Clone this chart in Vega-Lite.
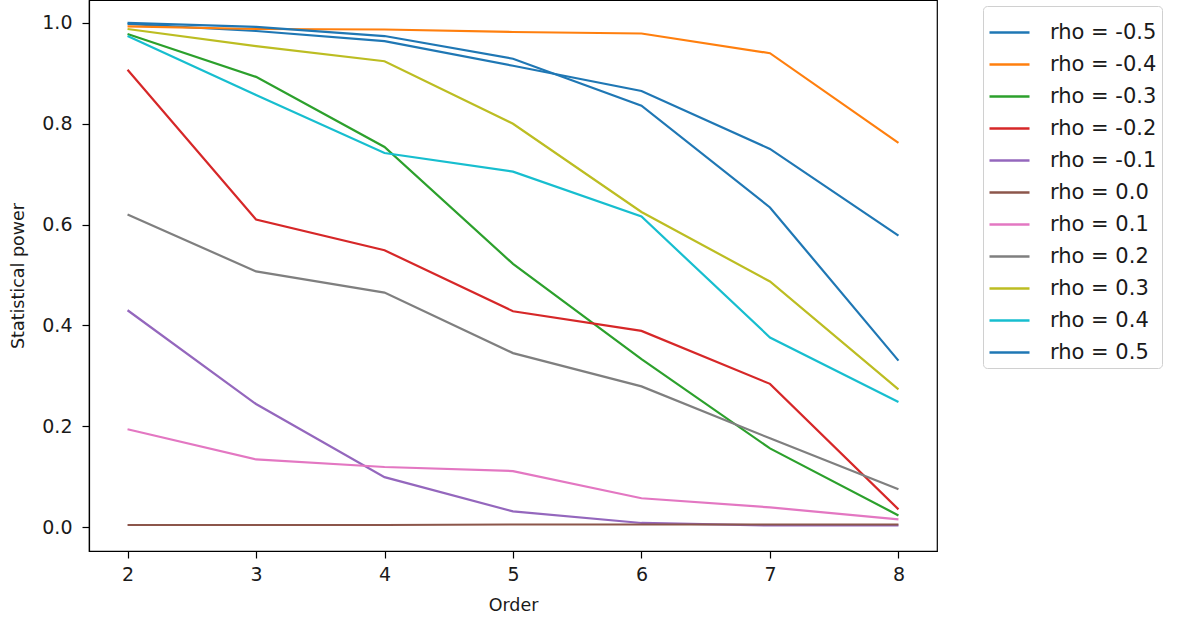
{
  "$schema": "https://vega.github.io/schema/vega-lite/v6.json",
  "autosize": {"type": "none"},
  "padding": {"left": 89, "top": 0, "right": 250, "bottom": 72},
  "width": 848,
  "height": 551,
  "background": "white",
  "config": {
    "font": "DejaVu Sans",
    "view": {"stroke": "black", "strokeWidth": 1.2},
    "axis": {
      "grid": false,
      "domainColor": "black",
      "domainWidth": 1.2,
      "tickColor": "black",
      "tickWidth": 1.2,
      "tickSize": 7,
      "labelFont": "DejaVu Sans",
      "labelFontSize": 19,
      "labelColor": "#1a1a1a",
      "titleFont": "DejaVu Sans",
      "titleFontSize": 17.5,
      "titleFontWeight": "normal",
      "titleColor": "#1a1a1a"
    }
  },
  "data": {
    "values": [
      {"order": 2, "rho": "rho = -0.5", "power": 0.998},
      {"order": 3, "rho": "rho = -0.5", "power": 0.984},
      {"order": 4, "rho": "rho = -0.5", "power": 0.964},
      {"order": 5, "rho": "rho = -0.5", "power": 0.915},
      {"order": 6, "rho": "rho = -0.5", "power": 0.865},
      {"order": 7, "rho": "rho = -0.5", "power": 0.75},
      {"order": 8, "rho": "rho = -0.5", "power": 0.578},
      {"order": 2, "rho": "rho = -0.4", "power": 0.993},
      {"order": 3, "rho": "rho = -0.4", "power": 0.988},
      {"order": 4, "rho": "rho = -0.4", "power": 0.987},
      {"order": 5, "rho": "rho = -0.4", "power": 0.982},
      {"order": 6, "rho": "rho = -0.4", "power": 0.979},
      {"order": 7, "rho": "rho = -0.4", "power": 0.94},
      {"order": 8, "rho": "rho = -0.4", "power": 0.762},
      {"order": 2, "rho": "rho = -0.3", "power": 0.978},
      {"order": 3, "rho": "rho = -0.3", "power": 0.893},
      {"order": 4, "rho": "rho = -0.3", "power": 0.754},
      {"order": 5, "rho": "rho = -0.3", "power": 0.522},
      {"order": 6, "rho": "rho = -0.3", "power": 0.333},
      {"order": 7, "rho": "rho = -0.3", "power": 0.156},
      {"order": 8, "rho": "rho = -0.3", "power": 0.023},
      {"order": 2, "rho": "rho = -0.2", "power": 0.907},
      {"order": 3, "rho": "rho = -0.2", "power": 0.61},
      {"order": 4, "rho": "rho = -0.2", "power": 0.549},
      {"order": 5, "rho": "rho = -0.2", "power": 0.428},
      {"order": 6, "rho": "rho = -0.2", "power": 0.389},
      {"order": 7, "rho": "rho = -0.2", "power": 0.284},
      {"order": 8, "rho": "rho = -0.2", "power": 0.035},
      {"order": 2, "rho": "rho = -0.1", "power": 0.43},
      {"order": 3, "rho": "rho = -0.1", "power": 0.244},
      {"order": 4, "rho": "rho = -0.1", "power": 0.099},
      {"order": 5, "rho": "rho = -0.1", "power": 0.031},
      {"order": 6, "rho": "rho = -0.1", "power": 0.008},
      {"order": 7, "rho": "rho = -0.1", "power": 0.003},
      {"order": 8, "rho": "rho = -0.1", "power": 0.003},
      {"order": 2, "rho": "rho = 0.0", "power": 0.004},
      {"order": 3, "rho": "rho = 0.0", "power": 0.004},
      {"order": 4, "rho": "rho = 0.0", "power": 0.004},
      {"order": 5, "rho": "rho = 0.0", "power": 0.005},
      {"order": 6, "rho": "rho = 0.0", "power": 0.005},
      {"order": 7, "rho": "rho = 0.0", "power": 0.005},
      {"order": 8, "rho": "rho = 0.0", "power": 0.005},
      {"order": 2, "rho": "rho = 0.1", "power": 0.194},
      {"order": 3, "rho": "rho = 0.1", "power": 0.134},
      {"order": 4, "rho": "rho = 0.1", "power": 0.119},
      {"order": 5, "rho": "rho = 0.1", "power": 0.111},
      {"order": 6, "rho": "rho = 0.1", "power": 0.057},
      {"order": 7, "rho": "rho = 0.1", "power": 0.039},
      {"order": 8, "rho": "rho = 0.1", "power": 0.015},
      {"order": 2, "rho": "rho = 0.2", "power": 0.62},
      {"order": 3, "rho": "rho = 0.2", "power": 0.507},
      {"order": 4, "rho": "rho = 0.2", "power": 0.465},
      {"order": 5, "rho": "rho = 0.2", "power": 0.345},
      {"order": 6, "rho": "rho = 0.2", "power": 0.279},
      {"order": 7, "rho": "rho = 0.2", "power": 0.176},
      {"order": 8, "rho": "rho = 0.2", "power": 0.075},
      {"order": 2, "rho": "rho = 0.3", "power": 0.988},
      {"order": 3, "rho": "rho = 0.3", "power": 0.954},
      {"order": 4, "rho": "rho = 0.3", "power": 0.924},
      {"order": 5, "rho": "rho = 0.3", "power": 0.8},
      {"order": 6, "rho": "rho = 0.3", "power": 0.625},
      {"order": 7, "rho": "rho = 0.3", "power": 0.487},
      {"order": 8, "rho": "rho = 0.3", "power": 0.273},
      {"order": 2, "rho": "rho = 0.4", "power": 0.974},
      {"order": 3, "rho": "rho = 0.4", "power": 0.857},
      {"order": 4, "rho": "rho = 0.4", "power": 0.742},
      {"order": 5, "rho": "rho = 0.4", "power": 0.705},
      {"order": 6, "rho": "rho = 0.4", "power": 0.616},
      {"order": 7, "rho": "rho = 0.4", "power": 0.376},
      {"order": 8, "rho": "rho = 0.4", "power": 0.248},
      {"order": 2, "rho": "rho = 0.5", "power": 1.0},
      {"order": 3, "rho": "rho = 0.5", "power": 0.992},
      {"order": 4, "rho": "rho = 0.5", "power": 0.974},
      {"order": 5, "rho": "rho = 0.5", "power": 0.929},
      {"order": 6, "rho": "rho = 0.5", "power": 0.836},
      {"order": 7, "rho": "rho = 0.5", "power": 0.634},
      {"order": 8, "rho": "rho = 0.5", "power": 0.33}
    ]
  },
  "mark": {"type": "line", "strokeWidth": 2.2, "clip": true},
  "encoding": {
    "x": {
      "field": "order",
      "type": "quantitative",
      "scale": {"domain": [1.7, 8.3], "nice": false, "zero": false},
      "axis": {"values": [2, 3, 4, 5, 6, 7, 8], "title": "Order", "labelPadding": 7, "titlePadding": 12}
    },
    "y": {
      "field": "power",
      "type": "quantitative",
      "scale": {"domain": [-0.0476, 1.0455], "nice": false, "zero": false},
      "axis": {"values": [0, 0.2, 0.4, 0.6, 0.8, 1.0], "format": ".1f", "title": "Statistical power", "labelPadding": 10, "titlePadding": 14}
    },
    "color": {
      "field": "rho",
      "type": "nominal",
      "scale": {
        "domain": ["rho = -0.5", "rho = -0.4", "rho = -0.3", "rho = -0.2", "rho = -0.1", "rho = 0.0", "rho = 0.1", "rho = 0.2", "rho = 0.3", "rho = 0.4", "rho = 0.5"],
        "range": ["#1f77b4", "#ff7f0e", "#2ca02c", "#d62728", "#9467bd", "#8c564b", "#e377c2", "#7f7f7f", "#bcbd22", "#17becf", "#1f77b4"]
      },
      "legend": {
        "title": null,
        "orient": "none",
        "legendX": 894,
        "legendY": 6,
        "strokeColor": "#d0d0d0",
        "fillColor": "white",
        "cornerRadius": 4,
        "padding": 5,
        "symbolType": "stroke",
        "symbolSize": 1600,
        "symbolStrokeWidth": 2.5,
        "labelFont": "DejaVu Sans",
        "labelFontSize": 21,
        "labelColor": "#1a1a1a",
        "labelOffset": 19,
        "rowPadding": 0
      }
    }
  }
}
